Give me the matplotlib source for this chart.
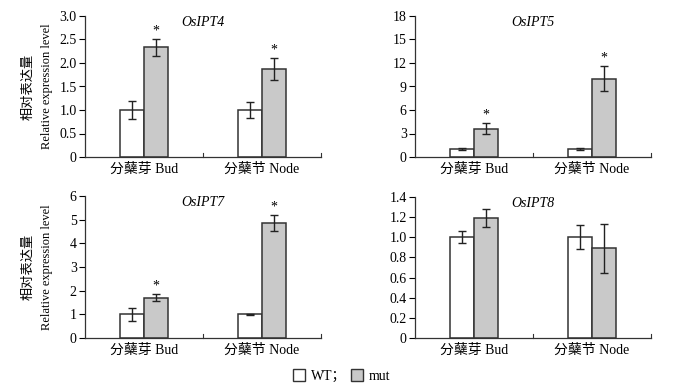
import matplotlib
matplotlib.use("Agg")
import matplotlib.pyplot as plt
from matplotlib.patches import Patch
import numpy as np

plt.rcParams['font.family'] = ['Liberation Serif', 'Noto Sans CJK SC']
plt.rcParams['mathtext.fontset'] = 'stix'

categories = ["分蘖芽 Bud", "分蘖节 Node"]
genes = ["OsIPT4", "OsIPT5", "OsIPT7", "OsIPT8"]
wt_vals = {"OsIPT4": [1.0, 1.0], "OsIPT5": [1.0, 1.0], "OsIPT7": [1.0, 1.0], "OsIPT8": [1.0, 1.0]}
wt_err = {"OsIPT4": [0.2, 0.17], "OsIPT5": [0.1, 0.1], "OsIPT7": [0.28, 0.03], "OsIPT8": [0.06, 0.12]}
mut_vals = {"OsIPT4": [2.33, 1.87], "OsIPT5": [3.6, 10.0], "OsIPT7": [1.7, 4.85], "OsIPT8": [1.19, 0.89]}
mut_err = {"OsIPT4": [0.18, 0.23], "OsIPT5": [0.7, 1.6], "OsIPT7": [0.15, 0.33], "OsIPT8": [0.09, 0.24]}
signif = {"OsIPT4": [True, True], "OsIPT5": [True, True], "OsIPT7": [True, True], "OsIPT8": [False, False]}
yticks = {"OsIPT4": [0, 0.5, 1.0, 1.5, 2.0, 2.5, 3.0],
          "OsIPT5": [0, 3, 6, 9, 12, 15, 18],
          "OsIPT7": [0, 1, 2, 3, 4, 5, 6],
          "OsIPT8": [0, 0.2, 0.4, 0.6, 0.8, 1.0, 1.2, 1.4]}
ytick_labels = {"OsIPT4": ["0", "0.5", "1.0", "1.5", "2.0", "2.5", "3.0"],
                "OsIPT5": ["0", "3", "6", "9", "12", "15", "18"],
                "OsIPT7": ["0", "1", "2", "3", "4", "5", "6"],
                "OsIPT8": ["0", "0.2", "0.4", "0.6", "0.8", "1.0", "1.2", "1.4"]}

W, H = 683, 386
fig = plt.figure(figsize=(W / 100, H / 100), dpi=100)

# pixel boxes: left, top, right, bottom
boxes = {"OsIPT4": (85, 16, 321, 157), "OsIPT5": (415, 16, 651, 157),
         "OsIPT7": (85, 196, 321, 338), "OsIPT8": (415, 197, 651, 338)}

edge = "#333333"
gray = "#c9c9c9"
bw = 0.2

for g in genes:
    l, t, r, b = boxes[g]
    ax = fig.add_axes([l / W, (H - b) / H, (r - l) / W, (b - t) / H])
    x = np.arange(len(categories))
    ek = dict(ecolor="#222222", elinewidth=1.0, capsize=3, capthick=1.0)
    ax.bar(x - bw / 2, wt_vals[g], bw, yerr=wt_err[g], color="white", edgecolor=edge, linewidth=1.1, error_kw=ek)
    ax.bar(x + bw / 2, mut_vals[g], bw, yerr=mut_err[g], color=gray, edgecolor=edge, linewidth=1.1, error_kw=ek)
    ymax = yticks[g][-1]
    for i in range(len(categories)):
        if signif[g][i]:
            ax.text(x[i] + bw / 2, mut_vals[g][i] + mut_err[g][i] + ymax * 0.01, "*",
                    ha="center", va="bottom", fontsize=10)
    ax.set_xlim(-0.5, 1.5)
    ax.set_ylim(0, ymax)
    ax.set_yticks(yticks[g])
    ax.set_yticklabels(ytick_labels[g], fontsize=10)
    ax.set_xticks(x)
    ax.set_xticklabels(categories, fontsize=10)
    ax.tick_params(axis="x", length=0, pad=4)
    ax.tick_params(axis="y", direction="out", length=4, width=0.8, pad=2)
    for xv in [0.5, 1.5]:
        ax.plot([xv, xv], [0, ymax * 0.03], color=edge, lw=0.8, clip_on=False)
    for s in ["top", "right"]:
        ax.spines[s].set_visible(False)
    for s in ["left", "bottom"]:
        ax.spines[s].set_linewidth(0.9)
        ax.spines[s].set_color(edge)
    ax.text(0.5, 1.0, g, transform=ax.transAxes, ha="center", va="top",
            fontsize=10, style="italic")
    if l < 200:
        ax.text(-0.24, 0.5, "相对表达量", transform=ax.transAxes, rotation=90,
                ha="center", va="center", fontsize=9.5, family=['Noto Sans CJK SC'])
        ax.text(-0.16, 0.5, "Relative expression level", transform=ax.transAxes, rotation=90,
                ha="center", va="center", fontsize=9)

handles = [Patch(facecolor="white", edgecolor=edge, linewidth=1.0, label="WT；"),
           Patch(facecolor=gray, edgecolor=edge, linewidth=1.0, label="mut")]
fig.legend(handles=handles, loc="center", bbox_to_anchor=(0.5, 1 - 376 / H), ncol=2, frameon=False,
           handlelength=0.9, handleheight=0.9, handletextpad=0.4, columnspacing=0.3, fontsize=10)

fig.savefig("out.png", dpi=100)
